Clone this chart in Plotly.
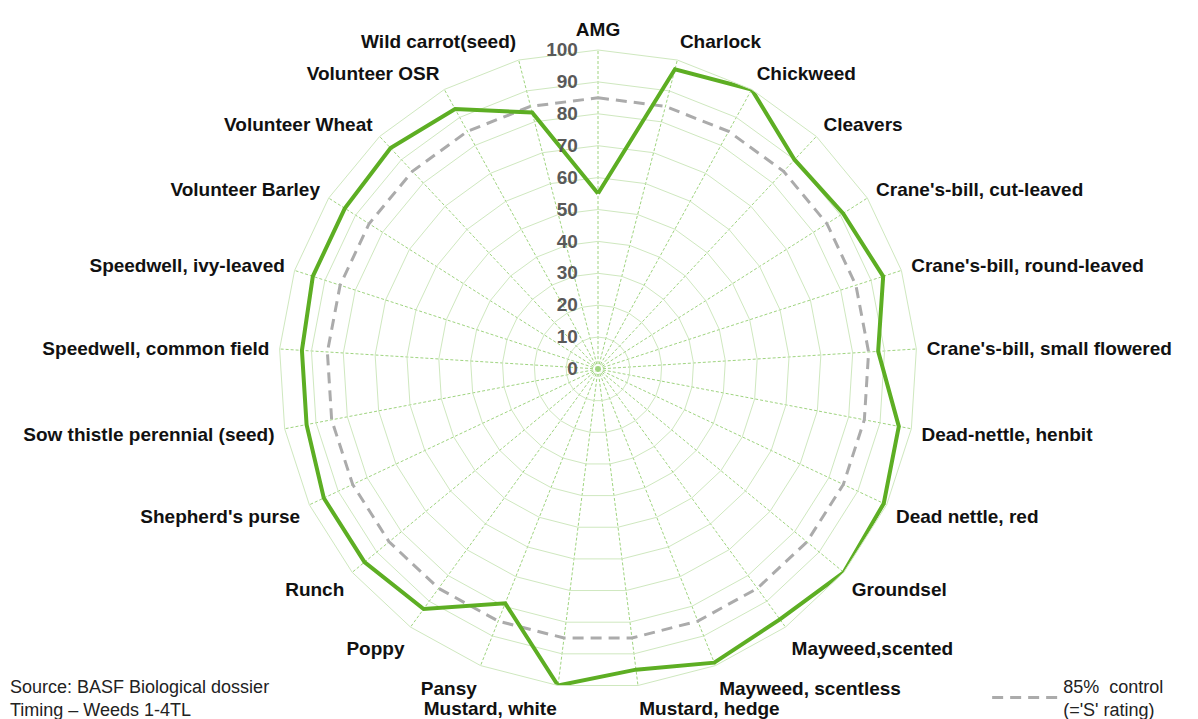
import plotly.graph_objects as go

categories = [
    "AMG", "Charlock", "Chickweed", "Cleavers", "Crane's-bill, cut-leaved",
    "Crane's-bill, round-leaved", "Crane's-bill, small flowered",
    "Dead-nettle, henbit", "Dead nettle, red", "Groundsel", "Mayweed,scented",
    "Mayweed, scentless", "Mustard, hedge", "Mustard, white", "Pansy", "Poppy",
    "Runch", "Shepherd's purse", "Sow thistle perennial (seed)",
    "Speedwell, common field", "Speedwell, ivy-leaved", "Volunteer Barley",
    "Volunteer Wheat", "Volunteer OSR", "Wild carrot(seed)",
]
control_values = [55, 97, 100, 90, 91, 94, 88, 96, 99, 100, 97, 99, 95, 100,
                  79, 93, 95, 95, 93, 93, 94, 94, 95, 93, 83]
threshold_value = 85
threshold_values = [threshold_value] * len(categories)
radial_ticks = [0, 10, 20, 30, 40, 50, 60, 70, 80, 90, 100]

GREEN = "#5DAE23"
GRID = "#cfe8bf"
SPOKE = "#9fd47f"
FONT = "Liberation Sans, Arial, sans-serif"

theta_closed = categories + categories[:1]

fig = go.Figure()
fig.add_trace(go.Scatterpolar(
    r=threshold_values + threshold_values[:1], theta=theta_closed,
    mode="lines", name="85%  control<br>(='S' rating)",
    line=dict(color="#ababab", width=3, dash="11px,7px"),
    hoverinfo="skip", showlegend=True,
))
fig.add_trace(go.Scatterpolar(
    r=control_values + control_values[:1], theta=theta_closed,
    mode="lines", name="Control",
    line=dict(color=GREEN, width=4),
    hoverinfo="skip", showlegend=False,
))

W, H = 1198, 719
cx, cy, R = 598, 369, 319
fig.update_layout(
    width=W, height=H,
    margin=dict(l=0, r=0, t=0, b=0, autoexpand=False),
    paper_bgcolor="white",
    font=dict(family=FONT, color="#111"),
    polar=dict(
        domain=dict(x=[(cx - R) / W, (cx + R) / W],
                    y=[(H - cy - R) / H, (H - cy + R) / H]),
        bgcolor="white",
        gridshape="linear",
        radialaxis=dict(
            range=[0, 100], tickvals=radial_ticks, angle=90,
            side="counterclockwise",
            showline=False, ticks="outside", ticklen=13,
            tickcolor="rgba(0,0,0,0)", gridcolor=GRID, gridwidth=1,
            tickfont=dict(size=19, color="#595959", weight="bold", family=FONT),
            tickangle=90,
        ),
        angularaxis=dict(
            rotation=90, direction="clockwise",
            categoryorder="array", categoryarray=categories,
            showline=True, linecolor=GRID, linewidth=1,
            gridcolor=SPOKE, gridwidth=1, griddash="3px,2px",
            ticks="outside", ticklen=6, tickcolor="rgba(0,0,0,0)",
            tickfont=dict(size=19, color="#111", weight="bold", family=FONT),
        ),
    ),
    showlegend=True,
    legend=dict(
        x=0.824, y=-0.012, xanchor="left", yanchor="bottom",
        bgcolor="rgba(0,0,0,0)",
        font=dict(size=18, color="#222", family=FONT),
        itemwidth=66,
    ),
    annotations=[
        dict(text="Source: BASF Biological dossier<br>Timing \u2013 Weeds 1-4TL",
             x=0.007, y=-0.004, xref="paper", yref="paper",
             xanchor="left", yanchor="bottom", align="left",
             showarrow=False,
             font=dict(size=18, color="#222", family=FONT)),
    ],
)

fig.write_html("out.html", config={"displayModeBar": False},
               post_script="document.body.style.margin='0';")
